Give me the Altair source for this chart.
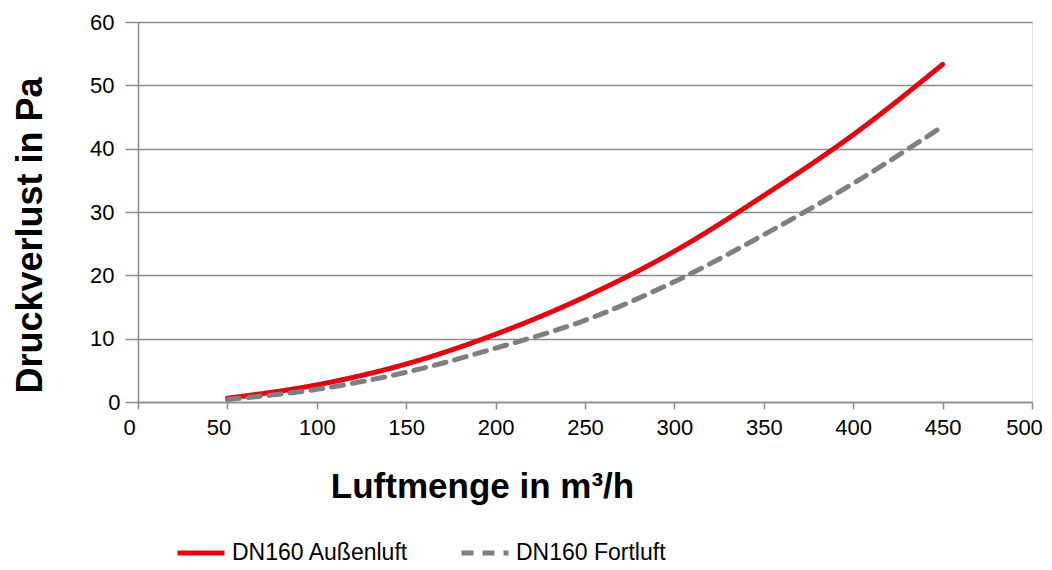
import altair as alt
import pandas as pd

airflow = [50, 100, 150, 200, 250, 300, 350, 400, 450]
aussenluft = [0.6, 2.7, 6.0, 10.7, 16.6, 23.8, 32.6, 42.2, 53.3]
fortluft = [0.4, 2.0, 4.7, 8.5, 12.9, 19.0, 26.4, 34.5, 43.5]
series_names = ["DN160  Außenluft", "DN160  Fortluft"]
series_colors = ["#E30613", "#7F7F7F"]
x_ticks = [0, 50, 100, 150, 200, 250, 300, 350, 400, 450, 500]
y_ticks = [0, 10, 20, 30, 40, 50, 60]

rows = []
for x, a, f in zip(airflow, aussenluft, fortluft):
    rows.append({"x": x, "y": a, "Serie": series_names[0]})
    rows.append({"x": x, "y": f, "Serie": series_names[1]})
df = pd.DataFrame(rows)

FONT = "Liberation Sans"

legend_cfg = dict(title=None, orient="none", direction="horizontal",
                  legendX=37, legendY=505, symbolType="stroke",
                  symbolSize=2209, symbolStrokeWidth=5,
                  labelFontSize=23, labelColor="#000000",
                  labelOffset=5, columnPadding=36, labelLimit=400)

chart = alt.Chart(df).mark_line(interpolate="monotone", strokeCap="round", strokeWidth=5).encode(
    x=alt.X("x:Q", scale=alt.Scale(domain=[0, 500], nice=False),
            axis=alt.Axis(title="Luftmenge in m³/h", values=x_ticks, grid=False,
                          tickSize=7, tickColor="#8C8C8C", tickWidth=1.5,
                          domainColor="#8C8C8C", domainWidth=1.5,
                          labelFontSize=22, labelPadding=8, labelColor="#000000",
                          labelFlush=False, labelOverlap=False,
                          labelOffset=alt.ExprRef("datum.value < 100 ? -9 : (datum.value == 500 ? -8 : 0)"),
                          titleFontSize=35, titleFontWeight="bold", titlePadding=31,
                          titleX=344, titleAlign="center", titleAnchor="start",
                          titleColor="#000000")),
    y=alt.Y("y:Q", scale=alt.Scale(domain=[0, 60], nice=False),
            axis=alt.Axis(title="Druckverlust in Pa", values=y_ticks, grid=True,
                          gridColor="#8C8C8C", gridWidth=1.5,
                          tickSize=13, tickColor="#8C8C8C", tickWidth=1.5,
                          domainColor="#8C8C8C", domainWidth=1.5,
                          labelFontSize=22, labelColor="#000000",
                          labelPadding=alt.ExprRef("datum.value == 0 ? 5 : 11"),
                          titleFontSize=36, titleFontWeight="bold", titlePadding=40,
                          titleY=213, titleAlign="center", titleAnchor="start",
                          titleColor="#000000")),
    color=alt.Color("Serie:N", scale=alt.Scale(domain=series_names, range=series_colors),
                    legend=alt.Legend(**legend_cfg)),
    strokeDash=alt.StrokeDash("Serie:N", scale=alt.Scale(domain=series_names, range=[[1, 0], [12, 9]]),
                              legend=alt.Legend(**legend_cfg)),
).properties(
    width=894, height=380,
    autosize=alt.AutoSizeParams(type="none"),
    padding={"left": 130, "top": 14, "right": 12, "bottom": 160},
).configure_view(stroke=None).configure(font=FONT)

chart.save("out.html", embed_options={"renderer": "svg", "actions": False})
